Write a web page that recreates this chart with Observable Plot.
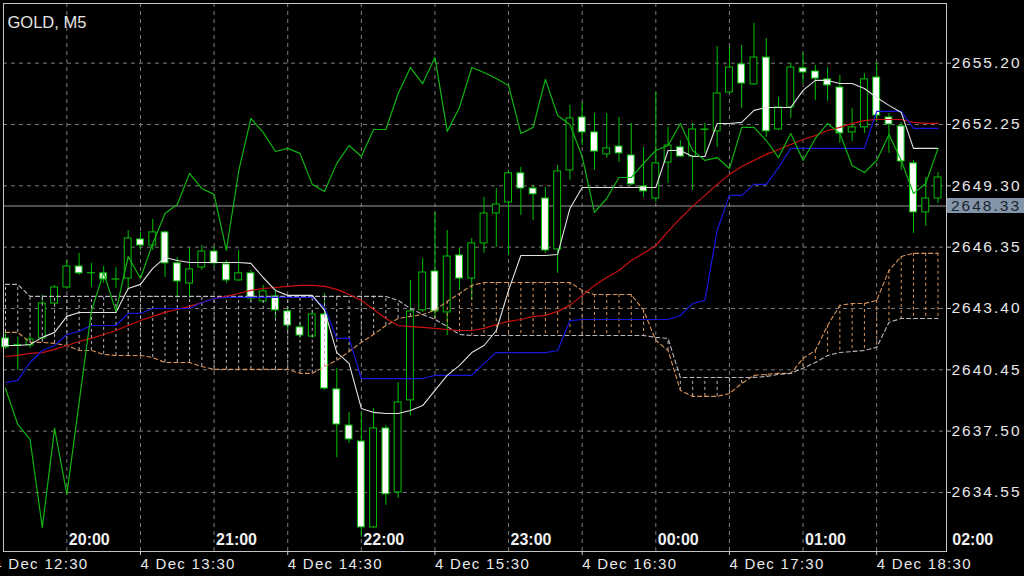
<!DOCTYPE html>
<html><head><meta charset="utf-8">
<script src="https://cdn.jsdelivr.net/npm/d3@7"></script>
<script src="https://cdn.jsdelivr.net/npm/@observablehq/plot@0.6"></script>
<style>
html,body{margin:0;padding:0;background:#000;overflow:hidden;}
#chart svg{display:block}
g[aria-label="y-axis tick label"] text{letter-spacing:2px}
g[aria-label="x-axis tick label"] text{letter-spacing:1.3px}
</style>
</head><body><div id="chart"></div><script>
const symbolTitle = "GOLD, M5";
const opens = [2641.96,2641.60,2641.62,2641.96,2643.64,2644.41,2645.42,2645.09,2645.09,2644.79,2644.84,2646.72,2646.43,2647.06,2645.57,2644.60,2645.37,2646.14,2645.52,2644.75,2645.09,2643.74,2643.98,2643.26,2642.49,2642.05,2643.11,2639.51,2637.77,2637.00,2632.87,2637.63,2634.55,2638.98,2643.31,2645.18,2643.21,2645.95,2644.84,2646.53,2647.97,2648.50,2649.90,2649.17,2648.69,2646.24,2650.04,2652.59,2651.87,2650.81,2651.19,2650.76,2649.27,2648.69,2650.42,2651.15,2650.71,2651.99,2651.92,2653.79,2655.14,2654.18,2655.47,2652.01,2653.07,2654.95,2654.80,2654.42,2654.03,2651.87,2652.11,2654.51,2652.59,2652.16,2650.38,2648.02,2648.69];
const highs = [2642.34,2642.01,2642.05,2644.03,2644.51,2645.71,2646.05,2645.57,2645.42,2645.37,2647.15,2647.06,2647.68,2647.11,2645.85,2646.29,2646.43,2646.34,2645.71,2646.19,2645.23,2644.51,2644.27,2643.50,2642.73,2643.26,2644.12,2640.52,2638.40,2638.40,2638.59,2637.77,2639.84,2644.75,2645.81,2648.02,2647.15,2646.29,2646.77,2648.74,2649.17,2650.04,2650.18,2649.32,2649.22,2650.28,2653.17,2653.31,2652.78,2652.78,2652.59,2652.30,2651.15,2653.79,2652.11,2651.48,2652.30,2652.30,2656.00,2656.00,2656.05,2657.11,2656.39,2653.55,2655.19,2655.67,2655.09,2654.99,2654.61,2653.02,2654.70,2655.23,2652.78,2652.35,2650.52,2649.70,2649.94];
const lows = [2641.43,2640.42,2641.48,2641.86,2643.55,2644.32,2644.99,2644.41,2644.60,2644.36,2644.27,2646.19,2646.19,2644.89,2643.88,2643.88,2645.23,2645.37,2644.60,2644.70,2643.69,2643.64,2642.92,2642.34,2641.96,2641.96,2639.46,2636.23,2636.91,2632.39,2632.82,2633.93,2634.26,2638.25,2643.21,2642.92,2642.10,2644.27,2643.79,2646.05,2646.34,2645.95,2647.87,2647.63,2646.05,2645.09,2649.56,2651.24,2650.04,2650.62,2650.42,2649.32,2648.74,2648.50,2649.41,2650.66,2649.08,2650.86,2651.15,2653.74,2653.02,2654.13,2651.63,2651.96,2652.54,2654.22,2653.41,2653.36,2651.34,2651.43,2651.82,2652.35,2650.86,2650.04,2647.01,2647.35,2648.45];
const closes = [2641.53,2641.65,2641.91,2643.64,2644.41,2645.42,2645.09,2645.10,2644.80,2644.80,2646.77,2646.43,2647.06,2645.57,2644.70,2645.28,2646.14,2645.57,2644.75,2645.09,2643.88,2644.22,2643.31,2642.58,2642.10,2643.11,2639.55,2637.82,2637.10,2632.87,2637.63,2634.46,2638.88,2643.26,2645.13,2643.26,2645.90,2644.84,2646.53,2647.97,2648.40,2649.90,2649.17,2648.89,2646.19,2649.99,2652.54,2651.87,2650.95,2651.10,2650.86,2649.37,2649.03,2650.38,2651.24,2650.71,2652.01,2652.01,2653.74,2654.99,2654.22,2655.47,2651.92,2653.07,2654.99,2654.75,2654.46,2654.13,2651.82,2652.11,2654.42,2652.68,2652.25,2650.47,2648.02,2648.69,2649.70];
const tenkanSen = [2641.62,2641.62,2641.67,2642.01,2642.25,2643.02,2643.21,2643.21,2643.21,2643.21,2644.36,2644.56,2645.33,2645.85,2645.71,2645.61,2645.61,2645.61,2645.61,2645.61,2645.57,2644.89,2644.27,2644.03,2644.03,2644.03,2643.31,2641.28,2640.76,2638.59,2638.40,2638.35,2638.35,2638.49,2638.73,2639.46,2640.18,2640.66,2641.28,2641.62,2642.34,2644.27,2645.95,2645.95,2645.95,2646.00,2648.21,2649.22,2649.22,2649.22,2649.22,2649.22,2649.22,2649.22,2651.00,2651.00,2650.71,2650.71,2652.30,2652.30,2652.35,2652.93,2653.07,2653.07,2653.07,2653.89,2654.37,2654.37,2654.22,2654.22,2653.98,2653.55,2653.17,2652.83,2651.10,2651.10,2651.10];
const kijunSen = [2639.84,2639.94,2640.80,2641.38,2641.62,2642.15,2642.30,2642.58,2642.58,2642.58,2643.16,2643.16,2643.40,2643.40,2643.40,2643.40,2643.69,2643.88,2643.93,2643.93,2643.93,2643.93,2643.93,2643.93,2643.93,2643.93,2643.45,2641.96,2641.96,2640.03,2640.03,2640.03,2640.03,2640.03,2640.03,2640.18,2640.18,2640.18,2640.18,2640.76,2641.28,2641.28,2641.28,2641.28,2641.28,2641.38,2642.82,2642.87,2642.87,2642.87,2642.87,2642.87,2642.87,2642.87,2642.87,2643.06,2643.64,2643.79,2647.15,2648.84,2648.84,2649.37,2649.37,2650.18,2651.10,2651.10,2651.10,2651.10,2651.10,2651.10,2651.10,2652.88,2652.88,2652.88,2652.06,2652.06,2652.06];
const movingAverage = [2641.09,2641.14,2641.24,2641.28,2641.43,2641.62,2641.81,2641.96,2642.15,2642.34,2642.58,2642.82,2643.02,2643.21,2643.35,2643.50,2643.69,2643.88,2643.98,2644.12,2644.27,2644.36,2644.41,2644.46,2644.51,2644.51,2644.46,2644.32,2644.07,2643.79,2643.35,2642.92,2642.58,2642.53,2642.49,2642.44,2642.39,2642.34,2642.34,2642.44,2642.63,2642.78,2642.87,2643.02,2643.07,2643.26,2643.55,2644.03,2644.51,2644.89,2645.23,2645.71,2646.05,2646.43,2647.11,2647.73,2648.31,2648.84,2649.37,2649.85,2650.23,2650.52,2650.81,2651.05,2651.29,2651.53,2651.72,2651.96,2652.11,2652.30,2652.44,2652.49,2652.49,2652.49,2652.35,2652.30,2652.30];
const chikouSpan = [2639.55,2637.82,2637.10,2632.87,2637.63,2634.46,2638.88,2643.26,2645.13,2643.26,2645.90,2644.84,2646.53,2647.97,2648.40,2649.90,2649.17,2648.89,2646.19,2649.99,2652.54,2651.87,2650.95,2651.10,2650.86,2649.37,2649.03,2650.38,2651.24,2650.71,2652.01,2652.01,2653.74,2654.99,2654.22,2655.47,2651.92,2653.07,2654.99,2654.75,2654.46,2654.13,2651.82,2652.11,2654.42,2652.68,2652.25,2650.70,2648.02,2648.69,2649.70,2649.70,2650.38,2651.00,2651.24,2652.30,2651.00,2650.52,2650.66,2650.13,2652.11,2652.11,2651.48,2650.66,2651.82,2650.52,2651.58,2652.30,2651.82,2650.28,2649.94,2650.52,2651.77,2650.52,2648.93,2649.41,2651.10];
const senkouSpanA = [2642.25,2642.25,2641.77,2641.77,2641.72,2641.62,2641.38,2641.38,2641.19,2641.14,2641.14,2641.14,2641.04,2640.80,2640.80,2640.80,2640.61,2640.47,2640.47,2640.47,2640.47,2640.47,2640.47,2640.47,2640.28,2640.28,2640.61,2640.90,2641.33,2641.77,2642.15,2642.58,2642.92,2643.02,2643.11,2643.31,2643.74,2644.12,2644.51,2644.65,2644.65,2644.65,2644.65,2644.65,2644.65,2644.65,2644.65,2644.27,2644.07,2644.07,2644.07,2644.07,2643.31,2641.86,2641.38,2639.46,2639.17,2639.17,2639.17,2639.31,2639.79,2640.18,2640.23,2640.28,2640.28,2641.00,2641.38,2642.58,2643.55,2643.64,2643.64,2643.79,2645.23,2645.90,2646.05,2646.05,2646.05];
const senkouSpanB = [2644.56,2644.56,2643.98,2643.98,2643.98,2643.98,2643.98,2643.98,2643.98,2643.98,2643.98,2643.98,2643.98,2643.98,2643.98,2643.98,2643.98,2643.98,2643.98,2643.98,2643.98,2643.98,2643.98,2643.98,2643.98,2643.98,2643.98,2643.98,2643.98,2643.98,2643.98,2643.98,2643.79,2643.40,2643.11,2642.87,2642.53,2642.15,2642.10,2642.10,2642.10,2642.10,2642.10,2642.10,2642.10,2642.10,2642.10,2642.10,2642.10,2642.10,2642.10,2642.10,2642.10,2642.01,2641.96,2640.08,2640.08,2640.08,2640.08,2640.08,2640.08,2640.08,2640.13,2640.23,2640.28,2640.52,2640.80,2641.14,2641.28,2641.33,2641.38,2641.53,2642.73,2642.92,2642.92,2642.92,2642.92];
const priceTicks = [2655.20, 2652.25, 2649.30, 2646.35, 2643.40, 2640.45, 2637.50, 2634.55];
const gridBars = [5, 11, 17, 23, 29, 35, 41, 47, 53, 59, 65, 71];
const topTimeBars = [5, 17, 29, 41, 53, 65, 77];
const topTimeLabels = ["20:00", "21:00", "22:00", "23:00", "00:00", "01:00", "02:00"];
const bottomTimeBars = [-1, 11, 23, 35, 47, 59, 71];
const bottomTimeLabels = ["4 Dec 12:30", "4 Dec 13:30", "4 Dec 14:30", "4 Dec 15:30", "4 Dec 16:30", "4 Dec 17:30", "4 Dec 18:30"];
const bidPrice = 2648.33;

const bars = opens.map((o, i) => ({
  i, open: o, high: highs[i], low: lows[i], close: closes[i],
  tenkan: tenkanSen[i], kijun: kijunSen[i], ma: movingAverage[i],
  chikou: chikouSpan[i], spanA: senkouSpanA[i], spanB: senkouSpanB[i]
}));
const bottomLabelMap = new Map(bottomTimeBars.map((b, k) => [b, bottomTimeLabels[k]]));
const topTimes = topTimeBars.map((b, k) => ({bar: b, label: topTimeLabels[k]}));

const GREEN = "#00c000";
const ORANGE = "#d8945a";
const THISTLE = "#bdb6bd";
const GRID = "#7c7c7c";
const FONT = "'Liberation Sans', Arial, sans-serif";

const bidLabel = (index, scales, values, dims) => {
  const y = scales.y(bidPrice);
  const g = d3.create("svg:g");
  const x0 = dims.width - dims.marginRight + 1;
  g.append("rect").attr("x", x0).attr("y", y - 7.5).attr("width", dims.marginRight - 1).attr("height", 15).attr("fill", "#8495a9");
  g.append("text").attr("x", x0 + 4).attr("y", y).attr("dy", "0.34em")
    .attr("text-anchor", "start")
    .attr("fill", "#1c2430").attr("font-size", 15.5).attr("font-family", FONT)
    .attr("letter-spacing", "2px").text(bidPrice.toFixed(2));
  return g.node();
};

const chart = Plot.plot({
  width: 1024, height: 576,
  marginLeft: 3, marginRight: 78, marginTop: 3, marginBottom: 25,
  style: {background: "#000", color: "#e6e6e6", fontFamily: FONT},
  x: {domain: [-0.163, 76.69], axis: null},
  y: {domain: [2631.71, 2658.07], axis: null},
  color: {type: "identity"},
  marks: [
    Plot.ruleY(priceTicks, {stroke: GRID, strokeDasharray: "4,4"}),
    Plot.ruleX(gridBars, {stroke: GRID, strokeDasharray: "4,4"}),
    Plot.ruleY([bidPrice], {stroke: "#9a9a9a"}),
    Plot.ruleX(bars, {x: "i", y1: "low", y2: "high", stroke: GREEN}),
    Plot.rect(bars, {x1: d => d.i - 0.28, x2: d => d.i + 0.28, y1: "open", y2: "close",
      fill: d => d.close >= d.open ? "#000" : "#fff", stroke: GREEN}),
    Plot.ruleX(bars, {x: "i", y1: "spanA", y2: "spanB",
      stroke: d => d.spanA >= d.spanB ? ORANGE : THISTLE, strokeDasharray: "3,3"}),
    Plot.line(bars, {x: "i", y: "spanA", stroke: ORANGE, strokeWidth: 1.1, strokeDasharray: "4,3"}),
    Plot.line(bars, {x: "i", y: "spanB", stroke: THISTLE, strokeWidth: 1.1, strokeDasharray: "4,3"}),
    Plot.line(bars, {x: "i", y: "ma", stroke: "#cc1010", strokeWidth: 1.2}),
    Plot.line(bars, {x: "i", y: "kijun", stroke: "#1818dc", strokeWidth: 1.2}),
    Plot.line(bars, {x: "i", y: "tenkan", stroke: "#e2e2e2", strokeWidth: 1.1}),
    Plot.line(bars, {x: "i", y: "chikou", stroke: "#10b410", strokeWidth: 1.2}),
    Plot.frame({stroke: "#c4c4c4"}),
    Plot.axisY({anchor: "right", ticks: priceTicks, tickFormat: d => d.toFixed(2), tickSize: 4, tickPadding: 1,
      stroke: "#c4c4c4", fill: "#e8e8e8", fontSize: 15.5, label: null}),
    Plot.axisX({anchor: "bottom", ticks: bottomTimeBars, tickFormat: d => bottomLabelMap.get(d), textAnchor: "start",
      tickSize: 4, tickPadding: 3, stroke: "#c4c4c4", fill: "#e8e8e8", fontSize: 15, label: null}),
    Plot.text(topTimes, {x: "bar", text: "label", frameAnchor: "bottom", dy: -7, dx: 2, textAnchor: "start",
      fill: "#f0f0f0", fontSize: 16, fontWeight: "bold"}),
    Plot.text([symbolTitle], {text: d => d, frameAnchor: "top-left", dx: 4, dy: 13, textAnchor: "start",
      fill: "#e6e6e6", fontSize: 16.5}),
    bidLabel
  ]
});
document.getElementById("chart").appendChild(chart);
</script></body></html>
